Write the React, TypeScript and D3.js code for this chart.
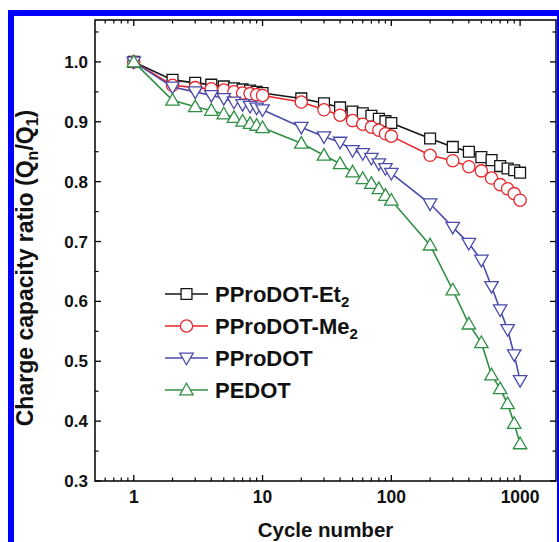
import React from "react";
import * as d3 from "d3";

const cycles = [1, 2, 3, 4, 5, 6, 7, 8, 9, 10, 20, 30, 40, 50, 60, 70, 80, 90, 100, 200, 300, 400, 500, 600, 700, 800, 900, 1000];
const et2 = [1.0, 0.970, 0.965, 0.962, 0.959, 0.956, 0.954, 0.952, 0.950, 0.948, 0.939, 0.931, 0.924, 0.917, 0.914, 0.910, 0.905, 0.901, 0.898, 0.872, 0.858, 0.850, 0.841, 0.836, 0.826, 0.822, 0.819, 0.815];
const me2 = [1.0, 0.961, 0.957, 0.955, 0.953, 0.950, 0.948, 0.947, 0.945, 0.944, 0.933, 0.920, 0.911, 0.902, 0.896, 0.891, 0.886, 0.880, 0.876, 0.844, 0.835, 0.825, 0.818, 0.806, 0.795, 0.788, 0.780, 0.769];
const prodot = [1.0, 0.958, 0.950, 0.944, 0.939, 0.933, 0.929, 0.926, 0.923, 0.920, 0.891, 0.875, 0.866, 0.852, 0.847, 0.839, 0.830, 0.822, 0.814, 0.763, 0.724, 0.697, 0.669, 0.625, 0.586, 0.553, 0.511, 0.468];
const pedot = [1.0, 0.936, 0.925, 0.919, 0.913, 0.907, 0.901, 0.897, 0.894, 0.890, 0.864, 0.844, 0.830, 0.816, 0.805, 0.797, 0.788, 0.777, 0.769, 0.694, 0.619, 0.562, 0.531, 0.477, 0.454, 0.429, 0.396, 0.362];

const seriesNames = ["PProDOT-Et", "PProDOT-Me", "PProDOT", "PEDOT"];
const seriesSubs = ["2", "2", "", ""];
const xMajorTicks = [1, 10, 100, 1000];
const xTickLabels = ["1", "10", "100", "1000"];
const yTickLabels = ["0.3", "0.4", "0.5", "0.6", "0.7", "0.8", "0.9", "1.0"];

const FONT = "'Liberation Sans', Arial, Helvetica, sans-serif";

export default function App() {
  const W = 559, H = 542;
  const L = 95, R = 556, T = 20, B = 481;
  const x = d3.scaleLog().domain([0.5, 1900]).range([L, R]);
  const y = d3.scaleLinear().domain([0.3, 1.07]).range([B, T]);

  const series = [
    { name: seriesNames[0], sub: seriesSubs[0], values: et2, color: "#151515", shape: "square" },
    { name: seriesNames[1], sub: seriesSubs[1], values: me2, color: "#e8262b", shape: "circle" },
    { name: seriesNames[2], sub: seriesSubs[2], values: prodot, color: "#4b4bab", shape: "down" },
    { name: seriesNames[3], sub: seriesSubs[3], values: pedot, color: "#2f8f45", shape: "up" },
  ];

  const symPath = (shape: string) => {
    if (shape === "square") return d3.symbol().type(d3.symbolSquare).size(118)()!;
    if (shape === "circle") return d3.symbol().type(d3.symbolCircle).size(118)()!;
    return d3.symbol().type(d3.symbolTriangle).size(78)()!;
  };
  const symTransform = (shape: string, cx: number, cy: number) => {
    if (shape === "down") return `translate(${cx},${cy - 1}) rotate(180)`;
    if (shape === "up") return `translate(${cx},${cy + 1})`;
    return `translate(${cx},${cy})`;
  };

  const xMinor = x.ticks().filter((t) => !xMajorTicks.includes(t) && t > 0.5 && t < 1900);
  const yMajor = y.ticks(8).filter((t) => t <= 1.0001);
  const yMinor = y.ticks(16).filter((t) => !yMajor.some((m) => Math.abs(m - t) < 1e-6) && t < 1.07);

  const line = d3
    .line<number>()
    .x((_, i) => x(cycles[i]))
    .y((d) => y(d));

  const major = 6, minor = 3.5;
  const legendX = 165, legendY0 = 294, legendDy = 32;

  return (
    <svg
      width={W}
      height={H}
      style={{ position: "fixed", left: 0, top: 0, background: "#fff" }}
      fontFamily={FONT}
      fontWeight="bold"
    >
      <rect x={0} y={0} width={W} height={H} fill="#fff" />
      <rect x={8} y={10} width={W} height={H} fill="#0000ff" />
      <rect x={14} y={16} width={557 - 14} height={H} fill="#fff" />

      {/* series */}
      {series.map((s, si) => (
        <g key={si}>
          <path d={line(s.values) || ""} fill="none" stroke={s.color} strokeWidth={1.6} />
          {s.values.map((v, i) => (
            <path
              key={i}
              d={symPath(s.shape)}
              transform={symTransform(s.shape, x(cycles[i]), y(v))}
              fill="#fff"
              stroke={s.color}
              strokeWidth={1.3}
            />
          ))}
        </g>
      ))}

      {/* frame */}
      <rect x={L} y={T} width={R - L} height={B - T} fill="none" stroke="#000" strokeWidth={1.5} />

      {/* x ticks */}
      {xMajorTicks.map((t, i) => (
        <g key={"xm" + i}>
          <line x1={x(t)} x2={x(t)} y1={B} y2={B - major} stroke="#000" strokeWidth={1.3} />
          <line x1={x(t)} x2={x(t)} y1={T} y2={T + major} stroke="#000" strokeWidth={1.3} />
          <text x={x(t)} y={503} textAnchor="middle" fontSize={17.5} fill="#111">
            {xTickLabels[i]}
          </text>
        </g>
      ))}
      {xMinor.map((t, i) => (
        <g key={"xn" + i}>
          <line x1={x(t)} x2={x(t)} y1={B} y2={B - minor} stroke="#000" strokeWidth={1.2} />
          <line x1={x(t)} x2={x(t)} y1={T} y2={T + minor} stroke="#000" strokeWidth={1.2} />
        </g>
      ))}

      {/* y ticks */}
      {yMajor.map((t, i) => (
        <g key={"ym" + i}>
          <line x1={L} x2={L + major} y1={y(t)} y2={y(t)} stroke="#000" strokeWidth={1.3} />
          <line x1={R} x2={R - major} y1={y(t)} y2={y(t)} stroke="#000" strokeWidth={1.3} />
          <text x={88} y={y(t) + 6} textAnchor="end" fontSize={17} fill="#111">
            {yTickLabels[i]}
          </text>
        </g>
      ))}
      {yMinor.map((t, i) => (
        <g key={"yn" + i}>
          <line x1={L} x2={L + minor} y1={y(t)} y2={y(t)} stroke="#000" strokeWidth={1.2} />
          <line x1={R} x2={R - minor} y1={y(t)} y2={y(t)} stroke="#000" strokeWidth={1.2} />
        </g>
      ))}

      {/* axis titles */}
      <text x={(L + R) / 2} y={537} textAnchor="middle" fontSize={20.5} fill="#111">
        Cycle number
      </text>
      <text transform={`translate(33,268) rotate(-90)`} textAnchor="middle" fontSize={23} fill="#111">
        Charge capacity ratio (Q
        <tspan fontSize={16} dy={5}>n</tspan>
        <tspan dy={-5}>/Q</tspan>
        <tspan fontSize={16} dy={5}>1</tspan>
        <tspan dy={-5}>)</tspan>
      </text>

      {/* legend */}
      {series.map((s, si) => {
        const cy = legendY0 + si * legendDy;
        return (
          <g key={"lg" + si}>
            <line x1={legendX} x2={legendX + 43} y1={cy} y2={cy} stroke={s.color} strokeWidth={1.6} />
            <path
              d={symPath(s.shape)}
              transform={symTransform(s.shape, legendX + 21.5, cy)}
              fill="#fff"
              stroke={s.color}
              strokeWidth={1.3}
            />
            <text x={215} y={cy + 8} fontSize={22} fill="#111">
              {s.name}
              {s.sub ? (
                <tspan fontSize={15} dy={5}>
                  {s.sub}
                </tspan>
              ) : null}
            </text>
          </g>
        );
      })}
    </svg>
  );
}
